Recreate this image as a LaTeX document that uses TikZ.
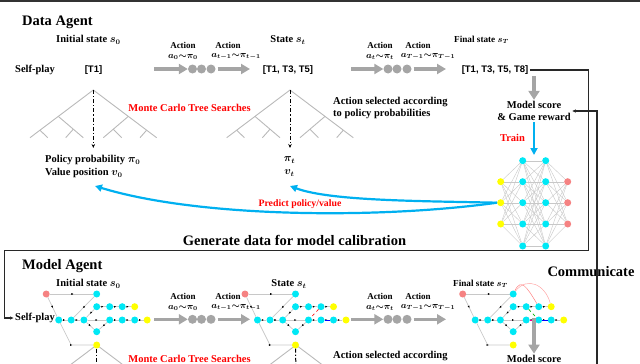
\documentclass[tikz,border=0pt]{standalone}
\usepackage{fontspec}
\setmainfont{Liberation Serif}
\newfontfamily\bsans{Liberation Sans}
\usetikzlibrary{arrows.meta,decorations.markings,calc}
\definecolor{garrow}{RGB}{165,165,165}
\definecolor{bluea}{RGB}{0,176,240}
\definecolor{cyann}{RGB}{0,232,245}
\definecolor{yelln}{RGB}{255,255,0}
\definecolor{redn}{RGB}{245,130,130}
\definecolor{redt}{RGB}{255,0,0}
\definecolor{treec}{RGB}{185,185,185}
\definecolor{edgec}{RGB}{200,200,200}
\definecolor{connc}{RGB}{40,40,40}
\pgfdeclarelayer{bg}
\pgfsetlayers{bg,main}
\tikzset{
 txt/.style={font=\bfseries\boldmath\fontsize{10.5}{12.5}\selectfont, inner sep=1pt},
 smalltxt/.style={font=\bfseries\boldmath\fontsize{9.2}{11}\selectfont, inner sep=1pt},
 acttxt/.style={font=\bfseries\boldmath\fontsize{9}{10}\selectfont, inner sep=0pt},
 titletxt/.style={font=\bfseries\fontsize{14.5}{16}\selectfont, inner sep=0pt},
 redtxt/.style={txt, text=redt},
 brk/.style={font=\bsans\bfseries\fontsize{9.5}{11}\selectfont, inner sep=1.5pt},
 garr/.style={draw=garrow, line width=3.5pt, -{Triangle[length=9pt,width=10pt]}},
 gdot/.style={circle, fill=garrow, minimum size=9pt, inner sep=0pt},
 barr/.style={draw=bluea, line width=2.2pt, -{Triangle[length=7pt,width=7pt]}},
 conn/.style={draw=connc, line width=1.1pt},
 treeline/.style={draw=treec, line width=0.9pt},
 ddot/.style={draw=black, line width=1pt, dash pattern=on 4pt off 2pt on 1.2pt off 2pt},
 cn/.style={circle, fill=cyann, minimum size=7pt, inner sep=0pt},
 yn/.style={cn, fill=yelln},
 rn/.style={cn, fill=redn},
 nnedge/.style={draw=edgec, line width=0.4pt},
 gedge/.style={draw=edgec, line width=0.7pt, postaction={decorate},
   decoration={markings, mark=at position 0.55 with {\arrow[black]{Latex[length=2.2pt,width=2pt]}}}},
}
\newcommand\mgraph[3]{%
 \begin{scope}[shift={(#2,#3)}]
  \node[rn] (#1R) at (0,0) {};
  \node[cn] (#1T) at (50.5,0) {};
  \node[cn] (#1m1) at (12.5,26) {};
  \node[cn] (#1m2) at (25,26) {};
  \node[cn] (#1m3) at (37.7,26) {};
  \node[cn] (#1m4) at (63.5,26) {};
  \node[cn] (#1m5) at (76,26) {};
  \node[cn] (#1m6) at (88.5,26) {};
  \node[yn] (#1m7) at (101,26) {};
  \node[cn] (#1u1) at (50.5,12.7) {};
  \node[cn] (#1u2) at (63.5,12.7) {};
  \node[cn] (#1u3) at (76,12.7) {};
  \node[yn] (#1u4) at (88.5,12.7) {};
  \node[cn] (#1l) at (50.5,37.7) {};
  \node[yn] (#1b) at (50.5,51) {};
  \coordinate (#1k) at (25,51);
 \end{scope}
 \begin{pgfonlayer}{bg}
  \draw[gedge] (#1R) -- (#1T);
  \draw[gedge] (#1R) -- (#1m1);
  \draw[gedge] (#1m1) -- (#1k) -- (#1b);
  \draw[gedge] (#1m1) -- (#1m2);
  \draw[gedge] (#1m2) -- (#1m3);
  \draw[gedge] (#1T) -- (#1m2);
  \draw[gedge] (#1u1) -- (#1m3);
  \draw[gedge] (#1m3) -- (#1l);
  \draw[gedge] (#1m3) -- (#1m4);
  \draw[gedge] (#1m4) -- (#1l);
  \draw[gedge] (#1u1) -- (#1u2);
  \draw[gedge] (#1u2) -- (#1u3);
  \draw[gedge] (#1u3) -- (#1u4);
  \draw[gedge] (#1m4) -- (#1m5);
  \draw[gedge] (#1m5) -- (#1m6);
  \draw[gedge] (#1m6) -- (#1m7);
 \end{pgfonlayer}}
\newcommand\mtree[2]{%
 \begin{scope}[shift={(#1,#2)}]
  \draw[treeline] (-63.3,47.7) -- (0,0) -- (63.3,47.7);
  \draw[treeline] (-35,26.4) -- (-10,47.7);
  \draw[treeline] (35,26.4) -- (10,47.7);
  \draw[treeline] (-53.3,40.2) -- (-45.6,47.7);
  \draw[treeline] (-20,39.2) -- (-27.6,47.7);
  \draw[treeline] (20,39.2) -- (28.4,47.7);
  \draw[treeline] (53.3,40.2) -- (46.7,47.7);
 \end{scope}}
\begin{document}
\begin{tikzpicture}[x=1pt,y=-1pt]
\useasboundingbox (0,0) rectangle (640,364);
\clip (0,0) rectangle (640,364);
\draw[line width=1.5pt, draw=black!80] (0,1.2) -- (640,1.2);

% ---------------- Data Agent ----------------
\node[titletxt, anchor=west] (da) at (22,22) {Data Agent};
\node[txt] (init0) at (88.5,40) {Initial state $s_0$};
\node[txt, anchor=west] (sp1) at (14,70) {Self-play};
\node[brk] (st0) at (93.5,70) {[T1]};
\node[txt] (stt) at (288,40) {State $s_t$};
\node[brk] (st1) at (288,70) {[T1, T3, T5]};
\node[smalltxt] (fst) at (481.5,40) {Final state $s_T$};
\node[brk] (fs) at (495,70) {[T1, T3, T5, T8]};

\node[acttxt] (ac1) at (183,45) {Action};
\node[acttxt] (ac1m) at (183,57) {$a_0{\sim}\pi_0$};
\node[acttxt] (ac2) at (228,45) {Action};
\node[acttxt] (ac2m) at (236,57) {$a_{t-1}{\sim}\pi_{t-1}$};
\node[acttxt] (ac3) at (380,45) {Action};
\node[acttxt] (ac3m) at (380,57) {$a_t{\sim}\pi_t$};
\node[acttxt] (ac4) at (418,45) {Action};
\node[acttxt] (ac4m) at (428,57) {$a_{T-1}{\sim}\pi_{T-1}$};

\node[gdot] (d1a) at (192.5,69) {};
\node[gdot] (d1b) at (201.5,69) {};
\node[gdot] (d1c) at (211,69) {};
\coordinate (a1s) at (154,69);
\coordinate (a2e) at (250,69);
\draw[garr] (a1s) -- (d1a);
\draw[garr, shorten <=2pt] (d1c) -- (a2e);
\node[gdot] (d2a) at (388,69) {};
\node[gdot] (d2b) at (397,69) {};
\node[gdot] (d2c) at (407,69) {};
\coordinate (a3s) at (351,69);
\coordinate (a4e) at (446,69);
\draw[garr] (a3s) -- (d2a);
\draw[garr, shorten <=2pt] (d2c) -- (a4e);

\mtree{93.3}{90}
\mtree{290}{90}
\coordinate (ap0) at (93.3,90);
\coordinate (ap0e) at (93.3,148);
\coordinate (apt) at (290,90);
\coordinate (apte) at (290,148);
\draw[ddot, -{Stealth[length=4pt,width=3.5pt]}] (ap0) -- (ap0e);
\draw[ddot, -{Stealth[length=4pt,width=3.5pt]}] (apt) -- (apte);

\node[redtxt] (mcts1) at (189.5,108) {Monte Carlo Tree Searches};
\node[txt, anchor=west, align=left] (asel) at (332,108) {Action selected according\\to policy probabilities};
\node[txt, anchor=west] (pol0) at (44,160) {Policy probability $\pi_0$};
\node[txt, anchor=west] (val0) at (44,173) {Value position $v_0$};
\node[txt] (pit) at (289.5,160) {$\pi_t$};
\node[txt] (vt) at (289.5,173) {$v_t$};

\node[txt, align=center] (ms) at (534,111) {Model score\\\& Game reward};
\draw[draw=garrow, line width=4pt, -{Triangle[length=9pt,width=11pt]}] (fs.south -| ms.north) -- (ms.north);
\node[redtxt] (train) at (512.5,138) {Train};

% neural network
\foreach \i/\y in {1/181.7,2/202.7,3/224} \node[yn] (nA\i) at (500.7,\y) {};
\foreach \i/\y in {1/160.7,2/181.7,3/202.7,4/224,5/246} {\node[cn] (nB\i) at (522.7,\y) {}; \node[cn] (nC\i) at (545.7,\y) {};}
\foreach \i/\y in {1/181.7,2/202.7,3/224} \node[rn] (nD\i) at (567.7,\y) {};
\begin{pgfonlayer}{bg}
\foreach \i in {1,2,3} \foreach \j in {1,...,5} {\draw[nnedge] (nA\i) -- (nB\j); \draw[nnedge] (nC\j) -- (nD\i);}
\foreach \i in {1,...,5} \foreach \j in {1,...,5} \draw[nnedge] (nB\i) -- (nC\j);
\end{pgfonlayer}
\coordinate (trn) at (534,155);
\draw[barr] (ms.south) -- (trn);

% predict arrows
\coordinate (tip0) at (95,186);
\coordinate (tipt) at (290,186);
\draw[barr] (nA2.west) .. controls (380,219) and (200,218) .. (tip0);
\draw[barr] (nA2.west) .. controls (420,201) and (330,201) .. (tipt);
\node[font=\bfseries\fontsize{9.8}{11}\selectfont, text=redt, inner sep=0pt] (pred) at (300,204) {Predict policy/value};

\node[titletxt] (gen) at (294.5,240) {Generate data for model calibration};

% ---------------- Model Agent ----------------
\node[titletxt, anchor=west] (ma) at (22,266) {Model Agent};
\node[txt] (init1) at (88.5,284) {Initial state $s_0$};
\node[txt, anchor=west] (sp2) at (14,318) {Self-play};
\node[txt] (stt2) at (289,284) {State $s_t$};
\node[smalltxt] (fst2) at (480.5,284) {Final state $s_T$};

\node[acttxt] (bc1) at (183,296) {Action};
\node[acttxt] (bc1m) at (183,308) {$a_0{\sim}\pi_0$};
\node[acttxt] (bc2) at (228,296) {Action};
\node[acttxt] (bc2m) at (236,308) {$a_{t-1}{\sim}\pi_{t-1}$};
\node[acttxt] (bc3) at (380,296) {Action};
\node[acttxt] (bc3m) at (380,308) {$a_t{\sim}\pi_t$};
\node[acttxt] (bc4) at (418,296) {Action};
\node[acttxt] (bc4m) at (428,308) {$a_{T-1}{\sim}\pi_{T-1}$};

\node[gdot] (e1a) at (192.5,319.3) {};
\node[gdot] (e1b) at (201.5,319.3) {};
\node[gdot] (e1c) at (211,319.3) {};
\coordinate (b1s) at (154,319.3);
\coordinate (b2e) at (250,319.3);
\draw[garr] (b1s) -- (e1a);
\draw[garr, shorten <=2pt] (e1c) -- (b2e);
\node[gdot] (e2a) at (388,319.3) {};
\node[gdot] (e2b) at (397,319.3) {};
\node[gdot] (e2c) at (407,319.3) {};
\coordinate (b3s) at (351,319.3);
\coordinate (b4e) at (446,319.3);
\draw[garr] (b3s) -- (e2a);
\draw[garr, shorten <=2pt] (e2c) -- (b4e);

\begin{pgfonlayer}{bg}
\begin{scope}
\clip (0,0) rectangle (640,364);
\mtree{96.7}{345}
\mtree{296}{345}
\end{scope}
\end{pgfonlayer}
\mgraph{g1}{46.2}{294}
\mgraph{g2}{245}{294}
\mgraph{g3}{462.7}{294}
\coordinate (g1d) at (96.7,372);
\coordinate (g2d) at (296,372);
\draw[ddot] (g1b.south) -- (g1d);
\draw[ddot] (g2b.south) -- (g2d);

% coloured edges
\draw[redt, line width=0.6pt, dashed] (g2u3) -- (g2m4);
\draw[blue, line width=0.8pt] (g2m5) -- (g2m6);
\draw[green!70!black, line width=0.7pt, dashed] (g3u2) -- (g3m5);
\draw[magenta, line width=0.8pt] (g3m4) -- (g3m5);
\draw[blue, line width=0.8pt] (g3m5) -- (g3m6);
\draw[redt!50, line width=0.5pt] (g3T) .. controls ++(8,-16) and ++(-12,-20) .. (g3u3);
\draw[redt!35, line width=0.5pt] (g3T) .. controls ++(14,-18) and ++(-6,-22) .. (g3u4);

\node[redtxt] (mcts2) at (189.5,359) {Monte Carlo Tree Searches};
\node[txt, anchor=west] (asel2) at (332,356) {Action selected according};
\node[txt] (ms2) at (534,358.5) {Model score};
\coordinate (msa) at (534,318);
\draw[draw=garrow, line width=4pt, -{Triangle[length=9pt,width=11pt]}] (msa) -- (ms2.north);

% ---------------- connectors ----------------
\coordinate (c1) at (588.5,250.5);
\coordinate (c2) at (4.8,250.5);
\draw[conn, -{Latex[length=4pt,width=3.5pt]}] (fs.east) -| (c1) -- (c2) |- (sp2.west);
\node[titletxt] (comm) at (591,272) {Communicate};
\coordinate (c3) at (597,372);
\draw[conn, -{Latex[length=4pt,width=3.5pt]}] (c3) |- (ms.east);
\end{tikzpicture}
\end{document}
